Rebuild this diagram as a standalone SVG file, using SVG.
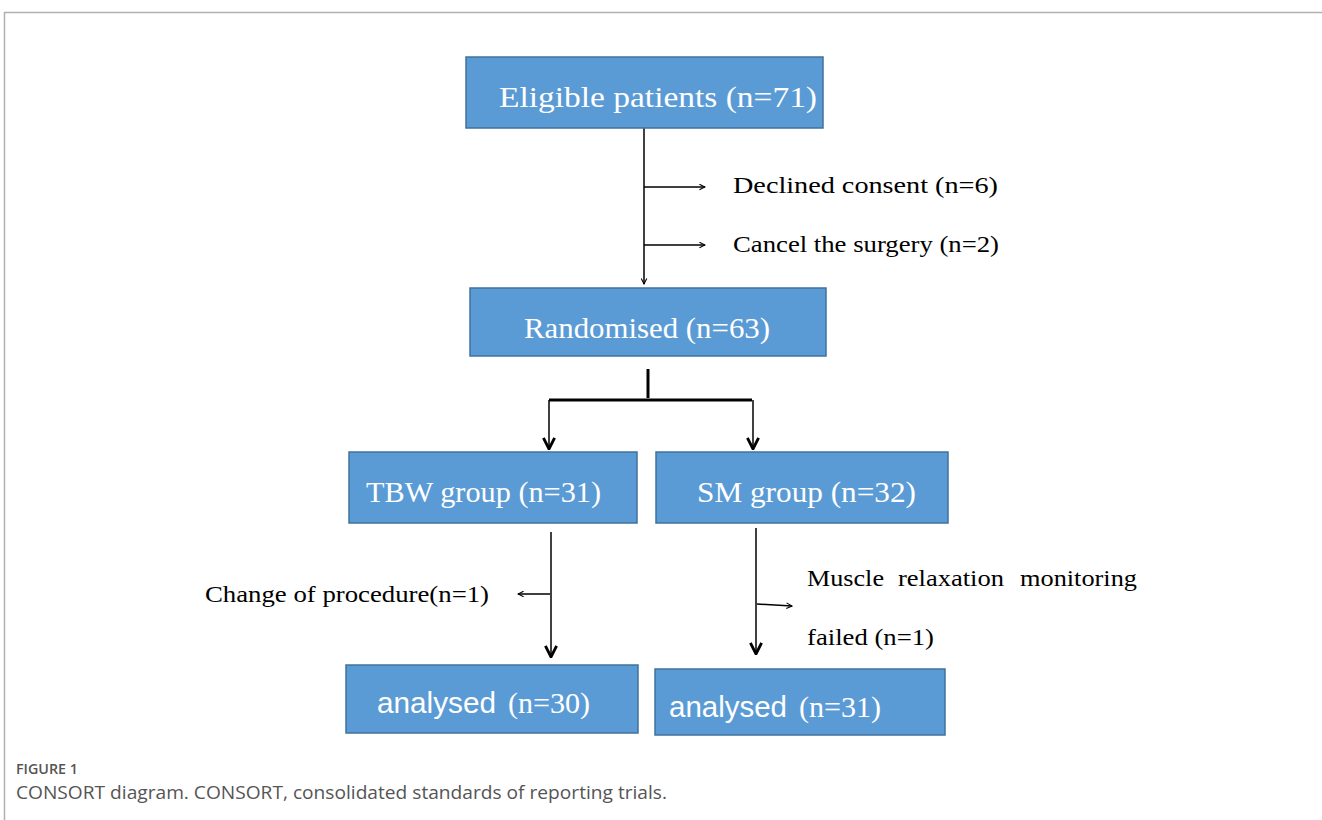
<svg xmlns="http://www.w3.org/2000/svg" width="1322" height="820" viewBox="0 0 1322 820">
<defs>
<style>
.box{fill:#5b9bd5;stroke:#41719c;stroke-width:1.5}
.bt{font-family:"Liberation Serif","Times New Roman",serif;font-size:29px;fill:#ffffff}
.bs{font-family:"Liberation Sans",Arial,sans-serif;font-size:29px;fill:#ffffff}
.lt{font-family:"Liberation Serif","Times New Roman",serif;font-size:24px;fill:#000000}
.ln{stroke:#000;stroke-width:1.5;fill:none}
.lnb{stroke:#000;stroke-width:3;fill:none}
.cap{font-family:"Open Sans","Noto Sans",sans-serif;fill:#555555}
</style>
<marker id="ah" viewBox="0 0 10 10" refX="9" refY="5" markerWidth="7" markerHeight="7" markerUnits="userSpaceOnUse" orient="auto">
<path d="M1,1 L9,5 L1,9" fill="none" stroke="#000" stroke-width="1.5"/>
</marker>
<marker id="ahb" viewBox="0 0 10 10" refX="9" refY="5" markerWidth="14" markerHeight="14" markerUnits="userSpaceOnUse" orient="auto">
<path d="M1,1 L9,5 L1,9" fill="none" stroke="#000" stroke-width="2"/>
</marker>
</defs>
<rect width="1322" height="820" fill="#ffffff"/>
<path d="M4.5,820 V12.5 H1322" fill="none" stroke="#b0b0b0" stroke-width="1.5"/>

<g id="connectors">
<line class="ln" x1="644" y1="128" x2="644" y2="284" marker-end="url(#ah)"/>
<line class="ln" x1="644" y1="187" x2="705" y2="187" marker-end="url(#ah)"/>
<line class="ln" x1="644" y1="245" x2="705" y2="245" marker-end="url(#ah)"/>
<line class="lnb" x1="648" y1="369" x2="648" y2="398"/>
<line class="lnb" x1="549" y1="400" x2="752" y2="400"/>
<line class="ln" x1="549" y1="400" x2="549" y2="449" stroke-width="2.5" marker-end="url(#ahb)"/>
<line class="ln" x1="753" y1="400" x2="753" y2="449" stroke-width="2.5" marker-end="url(#ahb)"/>
<line class="ln" x1="551" y1="532" x2="551" y2="657" stroke-width="2.5" marker-end="url(#ahb)"/>
<line class="ln" x1="550" y1="594" x2="518" y2="594" marker-end="url(#ah)"/>
<line class="ln" x1="756" y1="528" x2="756" y2="654" stroke-width="2.5" marker-end="url(#ahb)"/>
<line class="ln" x1="757" y1="604" x2="792" y2="606" marker-end="url(#ah)"/>
</g>

<g id="eligible">
<rect class="box" x="466" y="57" width="357" height="71"/>
<text class="bt" x="499" y="107" textLength="318" lengthAdjust="spacingAndGlyphs">Eligible patients (n=71)</text>
</g>
<g id="excl1">
<text class="lt" x="733" y="193" textLength="265" lengthAdjust="spacingAndGlyphs">Declined consent (n=6)</text>
</g>
<g id="excl2">
<text class="lt" x="733" y="252" textLength="266" lengthAdjust="spacingAndGlyphs">Cancel the surgery (n=2)</text>
</g>
<g id="randomised">
<rect class="box" x="470" y="288" width="356" height="68"/>
<text class="bt" x="524" y="338" textLength="246" lengthAdjust="spacingAndGlyphs">Randomised (n=63)</text>
</g>
<g id="tbw">
<rect class="box" x="349" y="452" width="288" height="71"/>
<text class="bt" x="366" y="502" textLength="235" lengthAdjust="spacingAndGlyphs">TBW group (n=31)</text>
</g>
<g id="sm">
<rect class="box" x="656" y="452" width="292" height="71"/>
<text class="bt" x="697" y="502" textLength="219" lengthAdjust="spacingAndGlyphs">SM group (n=32)</text>
</g>
<g id="change">
<text class="lt" x="205" y="602" textLength="284" lengthAdjust="spacingAndGlyphs">Change of procedure(n=1)</text>
</g>
<g id="muscle">
<text class="lt" x="807" y="586" textLength="77" lengthAdjust="spacingAndGlyphs">Muscle</text>
<text class="lt" x="898" y="586" textLength="106" lengthAdjust="spacingAndGlyphs">relaxation</text>
<text class="lt" x="1020" y="586" textLength="117" lengthAdjust="spacingAndGlyphs">monitoring</text>
<text class="lt" x="807" y="645" textLength="127" lengthAdjust="spacingAndGlyphs">failed (n=1)</text>
</g>
<g id="analysed30">
<rect class="box" x="346" y="665" width="292" height="68"/>
<text class="bs" x="377" y="713" textLength="119" lengthAdjust="spacingAndGlyphs">analysed</text>
<text class="bt" x="508" y="713" textLength="82" lengthAdjust="spacingAndGlyphs">(n=30)</text>
</g>
<g id="analysed31">
<rect class="box" x="655" y="669" width="290" height="66"/>
<text class="bs" x="669" y="717" textLength="118" lengthAdjust="spacingAndGlyphs">analysed</text>
<text class="bt" x="799" y="717" textLength="82" lengthAdjust="spacingAndGlyphs">(n=31)</text>
</g>

<text class="cap" x="16" y="774" font-size="13.5" font-weight="600" textLength="62" lengthAdjust="spacingAndGlyphs">FIGURE 1</text>
<text class="cap" x="16" y="799" font-size="18" textLength="651" lengthAdjust="spacingAndGlyphs">CONSORT diagram. CONSORT, consolidated standards of reporting trials.</text>
</svg>
